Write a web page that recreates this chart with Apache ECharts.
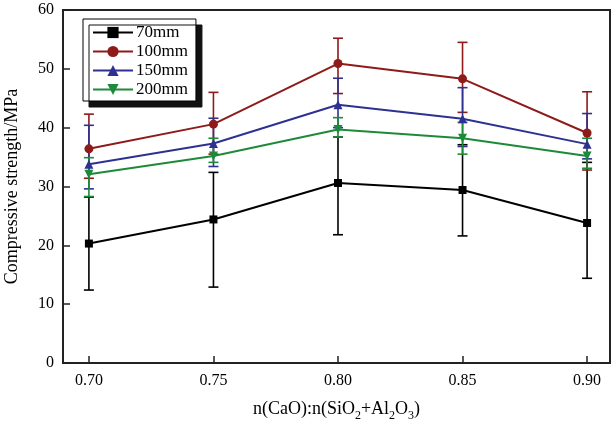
<!DOCTYPE html>
<html>
<head>
<meta charset="utf-8">
<script src="https://cdn.jsdelivr.net/npm/echarts@6/dist/echarts.min.js"></script>
<style>html,body{margin:0;padding:0;background:#fff}#c{width:612px;height:424px}</style>
</head>
<body>
<div id="c"></div>
<script>
const xVals = [0.70, 0.75, 0.80, 0.85, 0.90];
const xTicks = [0.70, 0.75, 0.80, 0.85, 0.90];
const seriesNames = ['70mm', '100mm', '150mm', '200mm'];
const mean70 = [20.3, 24.4, 30.6, 29.4, 23.8];
const low70 = [12.4, 12.9, 21.8, 21.6, 14.4];
const high70 = [28.2, 32.4, 38.4, 37.1, 34.1];
const mean100 = [36.4, 40.6, 50.9, 48.3, 39.1];
const low100 = [31.4, 35.5, 45.8, 42.6, 32.8];
const high100 = [42.3, 46.0, 55.2, 54.5, 46.1];
const mean150 = [33.8, 37.3, 43.9, 41.5, 37.2];
const low150 = [29.6, 33.4, 40.0, 36.8, 34.7];
const high150 = [40.4, 41.6, 48.4, 46.8, 42.4];
const mean200 = [32.1, 35.2, 39.7, 38.2, 35.2];
const low200 = [28.3, 34.1, 38.4, 35.5, 33.1];
const high200 = [34.9, 38.2, 41.7, 40.9, 38.2];

const colors = ['#000000', '#8e1a1a', '#2e3192', '#1d8a3a'];
const symbols = ['rect', 'circle', 'triangle', 'triangle'];
const rotates = [0, 0, 0, 180];
const means = [mean70, mean100, mean150, mean200];
const lows = [low70, low100, low150, low200];
const highs = [high70, high100, high150, high200];
const FONT = 'Liberation Serif';

const chart = echarts.init(document.getElementById('c'), null, {renderer: 'canvas'});

const series = [];
seriesNames.forEach((name, i) => {
  series.push({
    name: name + ' err',
    type: 'custom',
    data: xVals.map((x, j) => [x, lows[i][j], highs[i][j]]),
    z: 2,
    silent: true,
    renderItem: function (params, api) {
      const x = api.value(0);
      const lo = api.coord([x, api.value(1)]);
      const hi = api.coord([x, api.value(2)]);
      const w = 5;
      const st = {stroke: colors[i], lineWidth: 1.6};
      return {
        type: 'group',
        children: [
          {type: 'line', shape: {x1: lo[0], y1: lo[1], x2: hi[0], y2: hi[1]}, style: st},
          {type: 'line', shape: {x1: lo[0] - w, y1: lo[1], x2: lo[0] + w, y2: lo[1]}, style: st},
          {type: 'line', shape: {x1: hi[0] - w, y1: hi[1], x2: hi[0] + w, y2: hi[1]}, style: st}
        ]
      };
    }
  });
});
seriesNames.forEach((name, i) => {
  series.push({
    name: name,
    type: 'line',
    data: xVals.map((x, j) => [x, means[i][j]]),
    symbol: symbols[i],
    symbolRotate: rotates[i],
    symbolSize: i === 0 ? 8 : 9,
    showAllSymbol: true,
    z: 3,
    lineStyle: {color: colors[i], width: 2},
    itemStyle: {color: colors[i], opacity: 1}
  });
});

chart.setOption({
  animation: false,
  backgroundColor: '#ffffff',
  grid: {left: 63, right: 2, top: 10, bottom: 61, outerBoundsMode: 'none', containLabel: false,
    show: true, borderColor: '#222', borderWidth: 2, backgroundColor: 'transparent'},
  legend: {
    data: seriesNames,
    orient: 'vertical',
    left: 83,
    top: 19,
    padding: [5, 8, 3, 9],
    itemWidth: 40,
    itemHeight: 14,
    itemGap: 2,
    itemStyle: {borderWidth: 0},
    backgroundColor: '#ffffff',
    borderColor: '#000',
    borderWidth: 1,
    shadowColor: '#111',
    shadowBlur: 0,
    shadowOffsetX: 6,
    shadowOffsetY: 6,
    textStyle: {fontFamily: FONT, fontSize: 17, lineHeight: 14, color: '#000', padding: [0, 0, 0, -2]}
  },
  xAxis: {
    type: 'value',
    min: 0.6896,
    max: 0.9092,
    name: '{a|n(CaO):n(SiO}{s|2}{a|+Al}{s|2}{a|O}{s|3}{a|)}',
    nameLocation: 'middle',
    nameGap: 33,
    nameTextStyle: {
      fontFamily: FONT, color: '#000',
      rich: {
        a: {fontFamily: FONT, fontSize: 18, color: '#000', lineHeight: 26},
        s: {fontFamily: FONT, fontSize: 12, color: '#000', lineHeight: 12, verticalAlign: 'bottom'}
      }
    },
    splitLine: {show: false},
    axisLine: {lineStyle: {color: '#222', width: 2}},
    axisTick: {inside: true, length: 7, customValues: xTicks, lineStyle: {color: '#222', width: 1.5}},
    axisLabel: {customValues: xTicks, margin: 10, fontFamily: FONT, fontSize: 16, color: '#000',
      formatter: v => Number(v).toFixed(2)}
  },
  yAxis: {
    type: 'value',
    min: 0,
    max: 60,
    interval: 10,
    name: 'Compressive strength/MPa',
    nameLocation: 'middle',
    nameGap: 42,
    nameTextStyle: {fontFamily: FONT, fontSize: 18, color: '#000'},
    splitLine: {show: false},
    axisLine: {show: true, lineStyle: {color: '#222', width: 2}},
    axisTick: {show: true, inside: true, length: 7, lineStyle: {color: '#222', width: 1.5}},
    axisLabel: {margin: 9, fontFamily: FONT, fontSize: 16, color: '#000'}
  },
  series: series
});
</script>
</body>
</html>
